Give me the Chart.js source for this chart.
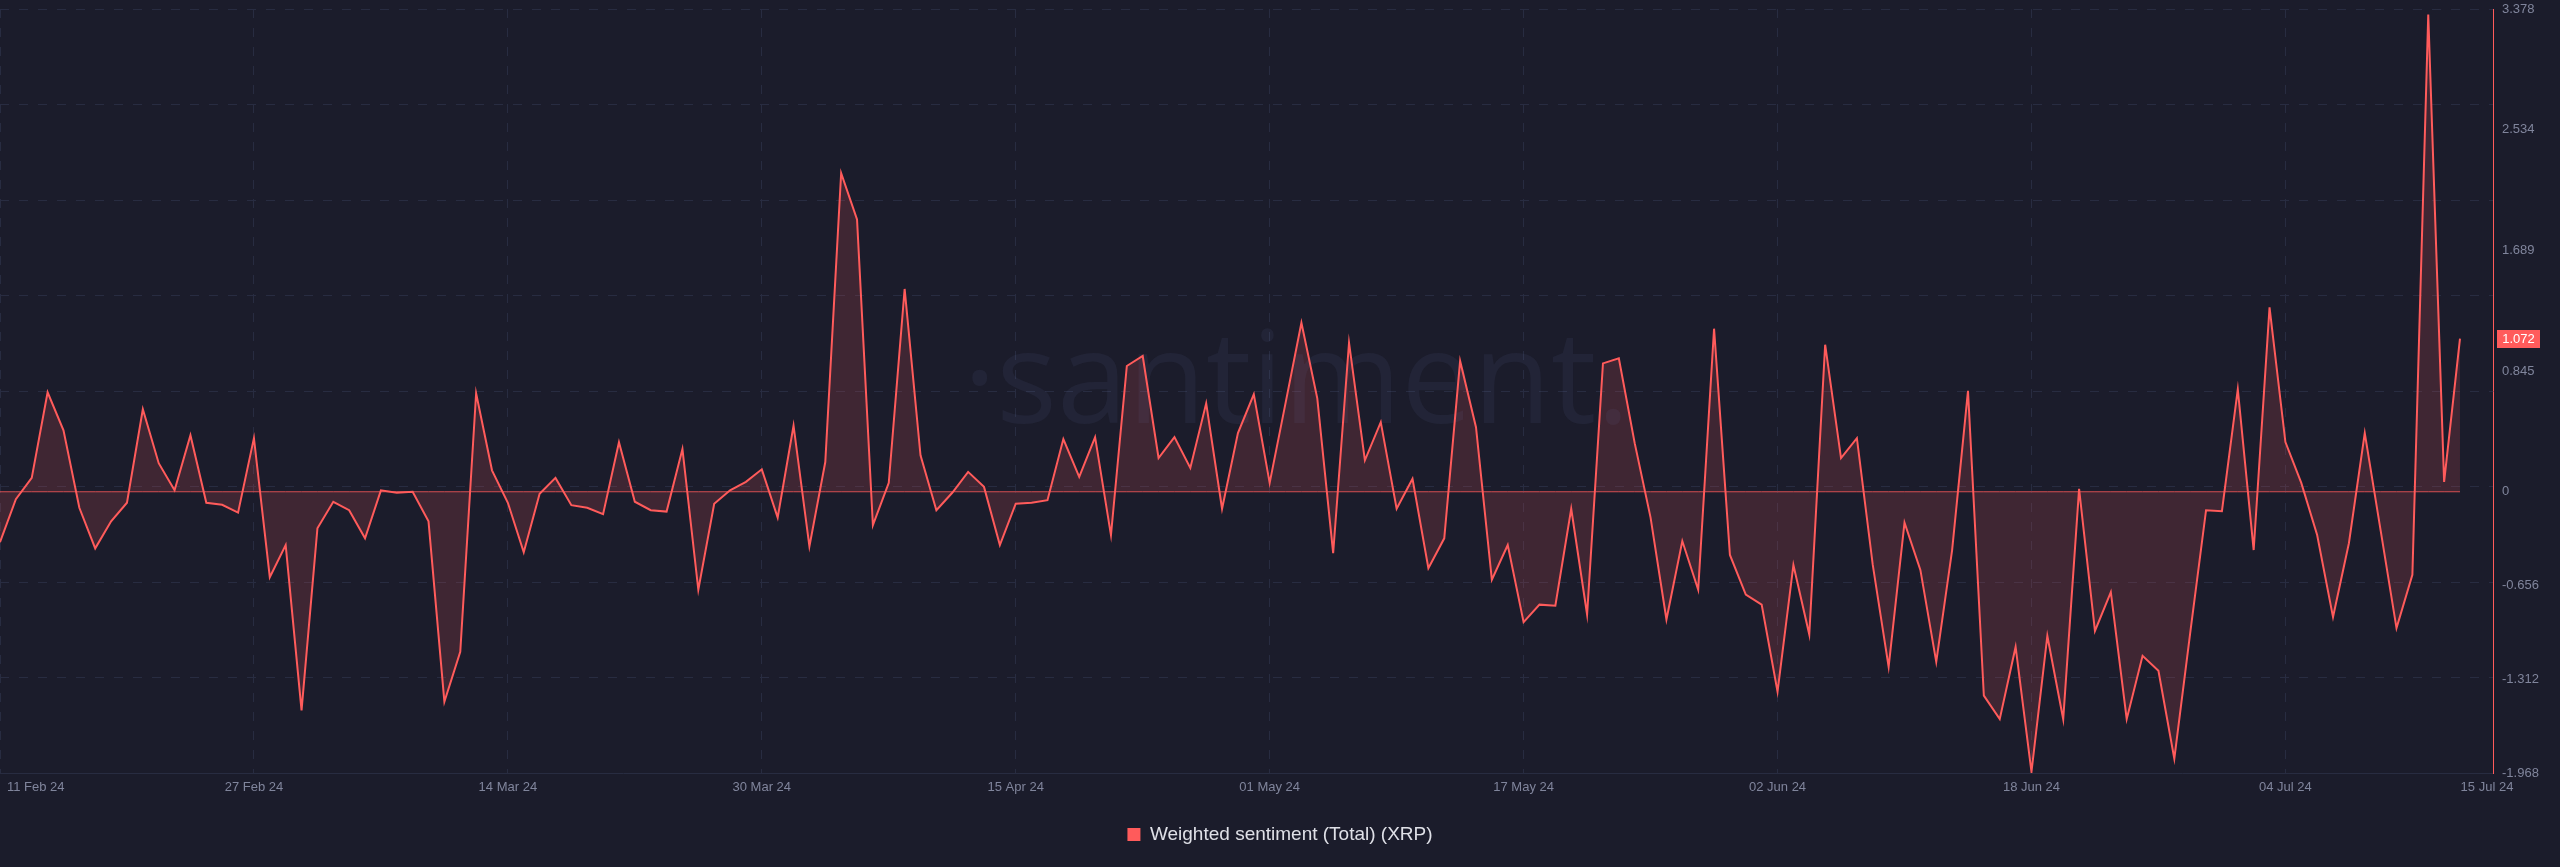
<!DOCTYPE html>
<html>
<head>
<meta charset="utf-8">
<script src="https://cdn.jsdelivr.net/npm/chart.js@4/dist/chart.umd.min.js"></script>
<style>
  html, body { margin: 0; padding: 0; background: #1b1c2b; overflow: hidden; }
  #wrap { position: relative; width: 2560px; height: 867px; background: #1b1c2b; }
</style>
</head>
<body>
<div id="wrap"><canvas id="c"></canvas></div>
<script>
// ---------------- DATA ----------------
const startDate = [2024, 1, 11];   // 11 Feb 2024 (daily series)
const dayCount = 156;              // 11 Feb 2024 .. 15 Jul 2024
const dates = [];
for (let i = 0; i < dayCount; i++) {
  dates.push(new Date(Date.UTC(startDate[0], startDate[1], startDate[2] + i)).toISOString().slice(0, 10));
}

const sentimentValues = [
  -0.353, -0.052, 0.097, 0.696, 0.430, -0.112, -0.396, -0.207, -0.077, 0.577,
   0.200, 0.010, 0.395, -0.077, -0.091, -0.146, 0.375, -0.598, -0.373, -1.530,
  -0.256, -0.070, -0.129, -0.326, 0.010, -0.007, 0.000, -0.207, -1.469, -1.120,
   0.689, 0.150, -0.077, -0.423, -0.014, 0.097, -0.094, -0.112, -0.157, 0.347,
  -0.070, -0.129, -0.139, 0.299, -0.686, -0.084, 0.010, 0.069, 0.157, -0.181,
   0.462, -0.383, 0.208, 2.230, 1.906, -0.234, 0.062, 1.419, 0.255, -0.129,
  -0.007, 0.139, 0.034, -0.373, -0.084, -0.077, -0.059, 0.369, 0.104, 0.382,
  -0.303, 0.880, 0.950, 0.236, 0.382, 0.166, 0.619, -0.119, 0.410, 0.682,
   0.062, 0.620, 1.183, 0.654, -0.430, 1.043, 0.220, 0.487, -0.119, 0.090,
  -0.535, -0.326, 0.915, 0.452, -0.616, -0.373, -0.912, -0.790, -0.797, -0.119,
  -0.859, 0.898, 0.933, 0.340, -0.181, -0.894, -0.345, -0.686, 1.141, -0.442,
  -0.720, -0.790, -1.399, -0.512, -0.999, 1.029, 0.236, 0.375, -0.512, -1.225,
  -0.216, -0.547, -1.190, -0.408, 0.706, -1.427, -1.591, -1.086, -1.960, -1.009,
  -1.591, 0.020, -0.974, -0.703, -1.591, -1.148, -1.253, -1.868, -0.990, -0.129,
  -0.136, 0.717, -0.408, 1.290, 0.348, 0.062, -0.303, -0.877, -0.360, 0.410,
  -0.270, -0.954, -0.581, 3.340, 0.069, 1.072
];

const xTickDates  = ['2024-02-11','2024-02-27','2024-03-14','2024-03-30','2024-04-15','2024-05-01','2024-05-17','2024-06-02','2024-06-18','2024-07-04','2024-07-15'];
const xTickLabels = ['11 Feb 24','27 Feb 24','14 Mar 24','30 Mar 24','15 Apr 24','01 May 24','17 May 24','02 Jun 24','18 Jun 24','04 Jul 24','15 Jul 24'];
const yTickValues = [3.378, 2.534, 1.689, 0.845, 0, -0.656, -1.312, -1.968];
const yTickLabels = ['3.378','2.534','1.689','0.845','0','-0.656','-1.312','-1.968'];
const seriesLabel = 'Weighted sentiment (Total) (XRP)';
const watermarkText = '·santiment.';

// ---------------- STYLE ----------------
const lineColor = '#ff5b5b';
const fillColor = 'rgba(255, 91, 91, 0.16)';
const gridColor = '#282c41';
const tickColor = '#80859c';
const legendColor = '#dfe0e7';
const fontFamily = '"Liberation Sans", Arial, sans-serif';

const yMin = yTickValues[yTickValues.length - 1];
const yMax = yTickValues[0];
const xTickIdx = xTickDates.map(d => dates.indexOf(d));
const lastIdx = dates.length - 1;

const points = sentimentValues.map((v, i) => ({ x: i, y: v }));
const zeroPoints = sentimentValues.map((v, i) => ({ x: i, y: 0 }));

// ---------------- PLUGINS ----------------
const watermarkPlugin = {
  id: 'watermark',
  beforeDatasetsDraw(chart) {
    const ctx = chart.ctx;
    const a = chart.chartArea;
    ctx.save();
    ctx.font = '400 150px "Open Sans", sans-serif';
    const target = 667;
    const w = ctx.measureText(watermarkText).width;
    const size = 150 * target / w;
    ctx.font = '400 ' + size + 'px "Open Sans", sans-serif';
    ctx.fillStyle = 'rgba(120, 132, 185, 0.085)';
    ctx.textAlign = 'center';
    ctx.textBaseline = 'alphabetic';
    ctx.fillText(watermarkText, a.left + a.width * 0.52, a.top + a.height * 0.542);
    ctx.restore();
  }
};

const edgeLabelPlugin = {
  id: 'edgeLabels',
  beforeDraw(chart) {
    const sx = chart.scales.x;
    if (!sx || !sx.getLabelItems) return;
    const items = sx.getLabelItems();
    if (!items || !items.length || items._edgeDone) return;
    const first = items[0];
    first.options.textAlign = 'left';
    first.options.translation[0] = sx.left + 7;
    const last = items[items.length - 1];
    last.options.translation[0] += 27;
    items._edgeDone = true;
  }
};

const badgePlugin = {
  id: 'lastBadge',
  afterDraw(chart) {
    const ctx = chart.ctx;
    const a = chart.chartArea;
    const y = chart.scales.y.getPixelForValue(sentimentValues[lastIdx]);
    const x0 = a.right + 4;
    const w = 43, h = 18;
    ctx.save();
    ctx.fillStyle = lineColor;
    ctx.fillRect(x0, Math.round(y - h / 2), w, h);
    ctx.fillStyle = '#ffffff';
    ctx.font = '13px ' + fontFamily;
    ctx.textAlign = 'center';
    ctx.textBaseline = 'middle';
    ctx.fillText(sentimentValues[lastIdx].toFixed(3), x0 + w / 2, y + 0.5);
    ctx.restore();
  }
};

// ---------------- CHART ----------------
new Chart(document.getElementById('c'), {
  type: 'line',
  data: {
    datasets: [
      {
        label: seriesLabel,
        data: points,
        borderColor: lineColor,
        backgroundColor: fillColor,
        borderWidth: 2,
        fill: 'origin',
        tension: 0,
        pointRadius: 0,
        pointHoverRadius: 0
      },
      {
        label: 'zero',
        data: zeroPoints,
        borderColor: 'rgba(255, 91, 91, 0.8)',
        borderWidth: 1,
        fill: false,
        pointRadius: 0,
        pointHoverRadius: 0
      }
    ]
  },
  options: {
    responsive: true,
    maintainAspectRatio: false,
    animation: false,
    events: [],
    layout: { padding: { left: 0, right: 0, top: 9, bottom: 13 } },
    scales: {
      x: {
        type: 'linear',
        min: 0,
        max: lastIdx + 2.08,
        afterBuildTicks: s => { s.ticks = xTickIdx.map(v => ({ value: v })); },
        afterFit: s => { s.height = 39; s.paddingLeft = 0; s.paddingRight = 0; },
        grid: {
          color: c => (c.tick && c.tick.value === lastIdx) ? 'rgba(0,0,0,0)' : gridColor,
          lineWidth: 1,
          drawTicks: false
        },
        border: { display: true, color: gridColor, width: 1, dash: [9, 10] },
        ticks: {
          color: tickColor,
          font: { size: 13, family: fontFamily },
          padding: 7,
          maxRotation: 0,
          autoSkip: false,
          callback: (v, i) => xTickLabels[i]
        }
      },
      yg: {
        position: 'right',
        min: yMin,
        max: yMax,
        afterBuildTicks: s => {
          const t = [];
          for (let i = 0; i <= 8; i++) t.push({ value: yMin + (yMax - yMin) * i / 8 });
          s.ticks = t;
        },
        afterFit: s => { s.width = 0; },
        grid: { color: gridColor, lineWidth: 1, drawTicks: false },
        border: { display: false, dash: [9, 10] },
        ticks: { display: false }
      },
      y: {
        position: 'right',
        min: yMin,
        max: yMax,
        afterBuildTicks: s => { s.ticks = yTickValues.map(v => ({ value: v })); },
        afterFit: s => { s.width = 67; s.paddingTop = 0; s.paddingBottom = 0; },
        grid: { display: false, drawTicks: false },
        border: { display: true, color: lineColor, width: 1 },
        ticks: {
          color: tickColor,
          font: { size: 13, family: fontFamily },
          padding: 9,
          autoSkip: false,
          callback: (v, i) => yTickLabels[i]
        }
      }
    },
    plugins: {
      filler: { drawTime: 'beforeDatasetsDraw' },
      tooltip: { enabled: false },
      legend: {
        position: 'bottom',
        labels: {
          color: legendColor,
          font: { size: 19, family: fontFamily },
          boxWidth: 13,
          boxHeight: 13,
          padding: 13,
          generateLabels: chart => Chart.defaults.plugins.legend.labels.generateLabels(chart)
            .filter(l => l.datasetIndex === 0)
            .map(l => Object.assign(l, { fillStyle: lineColor, strokeStyle: lineColor, lineWidth: 0 }))
        }
      }
    }
  },
  plugins: [watermarkPlugin, edgeLabelPlugin, badgePlugin]
});
</script>
</body>
</html>
